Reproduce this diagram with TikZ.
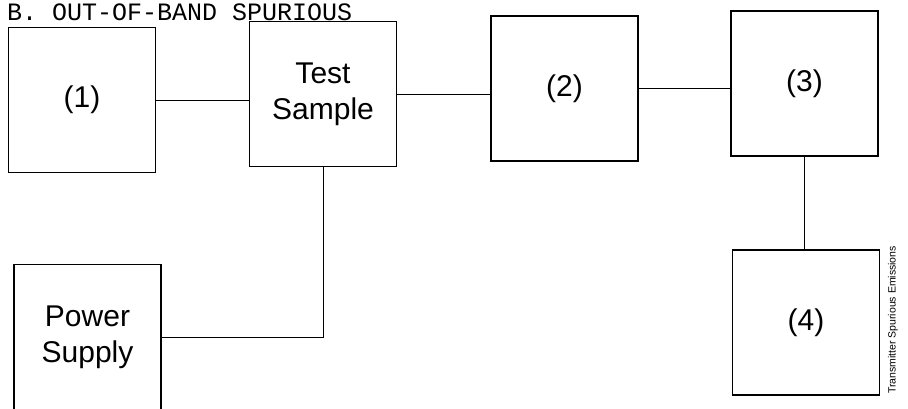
\documentclass[tikz,border=0pt]{standalone}
\usepackage{fontspec}
\setmainfont{Liberation Sans}
\newfontfamily\titlefont{Liberation Mono}
\usetikzlibrary{positioning}
\tikzstyle{block}=[rectangle, draw, line width=1.2pt, minimum width=147pt, minimum height=145pt,
  inner sep=0pt, align=center, font=\fontsize{30}{36}\selectfont]
\newcommand{\block}{\node[block]}

\begin{document}
\begin{tikzpicture}[x=1pt, y=1pt
  ,every edge/.style={draw, line width=0.8pt}
]
\useasboundingbox (0,0) rectangle (908,409);
\node[anchor=base west, inner sep=0pt, font=\titlefont\fontsize{25}{30}\selectfont]
  (title) at (7,388.5) {B. OUT-OF-BAND SPURIOUS};
\block (one) at (82,309) {(1)};
\block (ts) at (323,315) {Test\\Sample};
\block (two) at (564.5,320.5) {(2)};
\block (three) at (804.5,325.5) {(3)};
\block (four) at (806,86.5) {(4)};
\block (ps) at (87.5,72) {Power\\Supply};
\node[rotate=90, font=\fontsize{10.5}{12}\selectfont] (cap) at (893,89) {Transmitter Spurious Emissions};
\path
(one.east) edge (one.east -| ts.west)
(ts.east) edge (ts.east -| two.west)
(two.east) edge (two.east -| three.west)
(three.south) edge (three.south |- four.north)
;
\draw[line width=0.8pt] (ts.south) |- (ps.east);
\end{tikzpicture}
\end{document}
